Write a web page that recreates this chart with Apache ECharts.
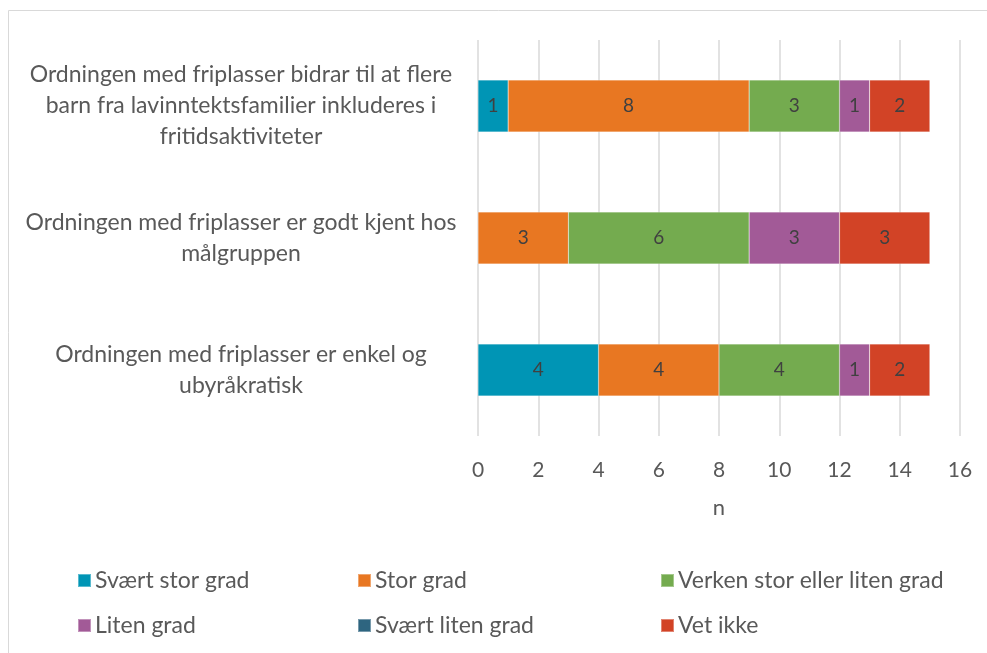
<!DOCTYPE html>
<html>
<head>
<meta charset="utf-8">
<script src="https://cdn.jsdelivr.net/npm/echarts@6/dist/echarts.min.js"></script>
<style>
    html, body { margin: 0; padding: 0; background: #fff; }
    #chart { width: 987px; height: 653px; }
</style>
</head>
<body>
<div id="chart"></div>
<script>
// Data
const kategorier = [
    'Ordningen med friplasser bidrar til at flere\nbarn fra lavinntektsfamilier inkluderes i\nfritidsaktiviteter',
    'Ordningen med friplasser er godt kjent hos\nmålgruppen',
    'Ordningen med friplasser er enkel og\nubyråkratisk'
];
const seriesNavn = ['Svært stor grad', 'Stor grad', 'Verken stor eller liten grad', 'Liten grad', 'Svært liten grad', 'Vet ikke'];
const svaertStorGrad = [1, 0, 4];
const storGrad = [8, 3, 4];
const verken = [3, 6, 4];
const litenGrad = [1, 3, 1];
const svaertLitenGrad = [0, 0, 0];
const vetIkke = [2, 3, 2];
const xTicks = [0, 2, 4, 6, 8, 10, 12, 14, 16];

const farger = ['#0095b5', '#e87722', '#74ab4f', '#a25a97', '#2e6580', '#d24326'];
const verdier = [svaertStorGrad, storGrad, verken, litenGrad, svaertLitenGrad, vetIkke];

const font = 'Lato, "Source Sans Pro", sans-serif';
const tekstFarge = '#595959';

const chart = echarts.init(document.getElementById('chart'));

const serier = seriesNavn.map((navn, i) => ({
    name: navn,
    type: 'bar',
    stack: 'total',
    barWidth: 52,
    itemStyle: { color: farger[i], borderColor: 'rgba(255,255,255,0.35)', borderWidth: 0.5 },
    label: {
        show: true,
        position: 'inside',
        color: '#404040',
        fontFamily: font,
        fontSize: 19,
        formatter: p => (p.value ? String(p.value) : '')
    },
    emphasis: { disabled: true },
    data: verdier[i]
}));

// Legend laid out as three vertical columns
const legendKolonner = [
    { left: 77, data: [seriesNavn[0], seriesNavn[3]] },
    { left: 357, data: [seriesNavn[1], seriesNavn[4]] },
    { left: 660, data: [seriesNavn[2], seriesNavn[5]] }
];

chart.setOption({
    animation: false,
    textStyle: { fontFamily: font },
    graphic: [{
        type: 'rect',
        shape: { x: 8.5, y: 10.5, width: 1000, height: 700 },
        style: { fill: 'none', stroke: '#d9d9d9', lineWidth: 1 },
        silent: true
    }],
    grid: { left: 478, right: 27, top: 40, bottom: 217 },
    legend: legendKolonner.map(k => ({
        orient: 'vertical',
        left: k.left,
        top: 569,
        height: 120,
        padding: 0,
        itemWidth: 13,
        itemHeight: 13,
        itemGap: 22,
        icon: 'rect',
        textStyle: { color: tekstFarge, fontSize: 23, lineHeight: 20, fontFamily: font, padding: [0, 0, 0, -1] },
        selectedMode: false,
        data: k.data
    })),
    xAxis: {
        type: 'value',
        min: 0,
        max: 16,
        interval: 2,
        name: 'n',
        nameLocation: 'middle',
        nameGap: 61,
        nameTextStyle: { color: tekstFarge, fontSize: 22, fontFamily: font },
        axisLine: { show: false },
        axisTick: { show: false },
        axisLabel: {
            color: tekstFarge,
            fontSize: 21,
            fontFamily: font,
            margin: 24,
            formatter: v => (xTicks.includes(v) ? String(v) : '')
        },
        splitLine: { show: true, lineStyle: { color: '#d9d9d9', width: 1.5 } }
    },
    yAxis: {
        type: 'category',
        inverse: true,
        data: kategorier,
        axisLine: { show: false },
        axisTick: { show: false },
        axisLabel: {
            color: tekstFarge,
            fontSize: 23,
            fontFamily: font,
            align: 'center',
            margin: 237,
            lineHeight: 31
        }
    },
    series: serier
});
</script>
</body>
</html>
